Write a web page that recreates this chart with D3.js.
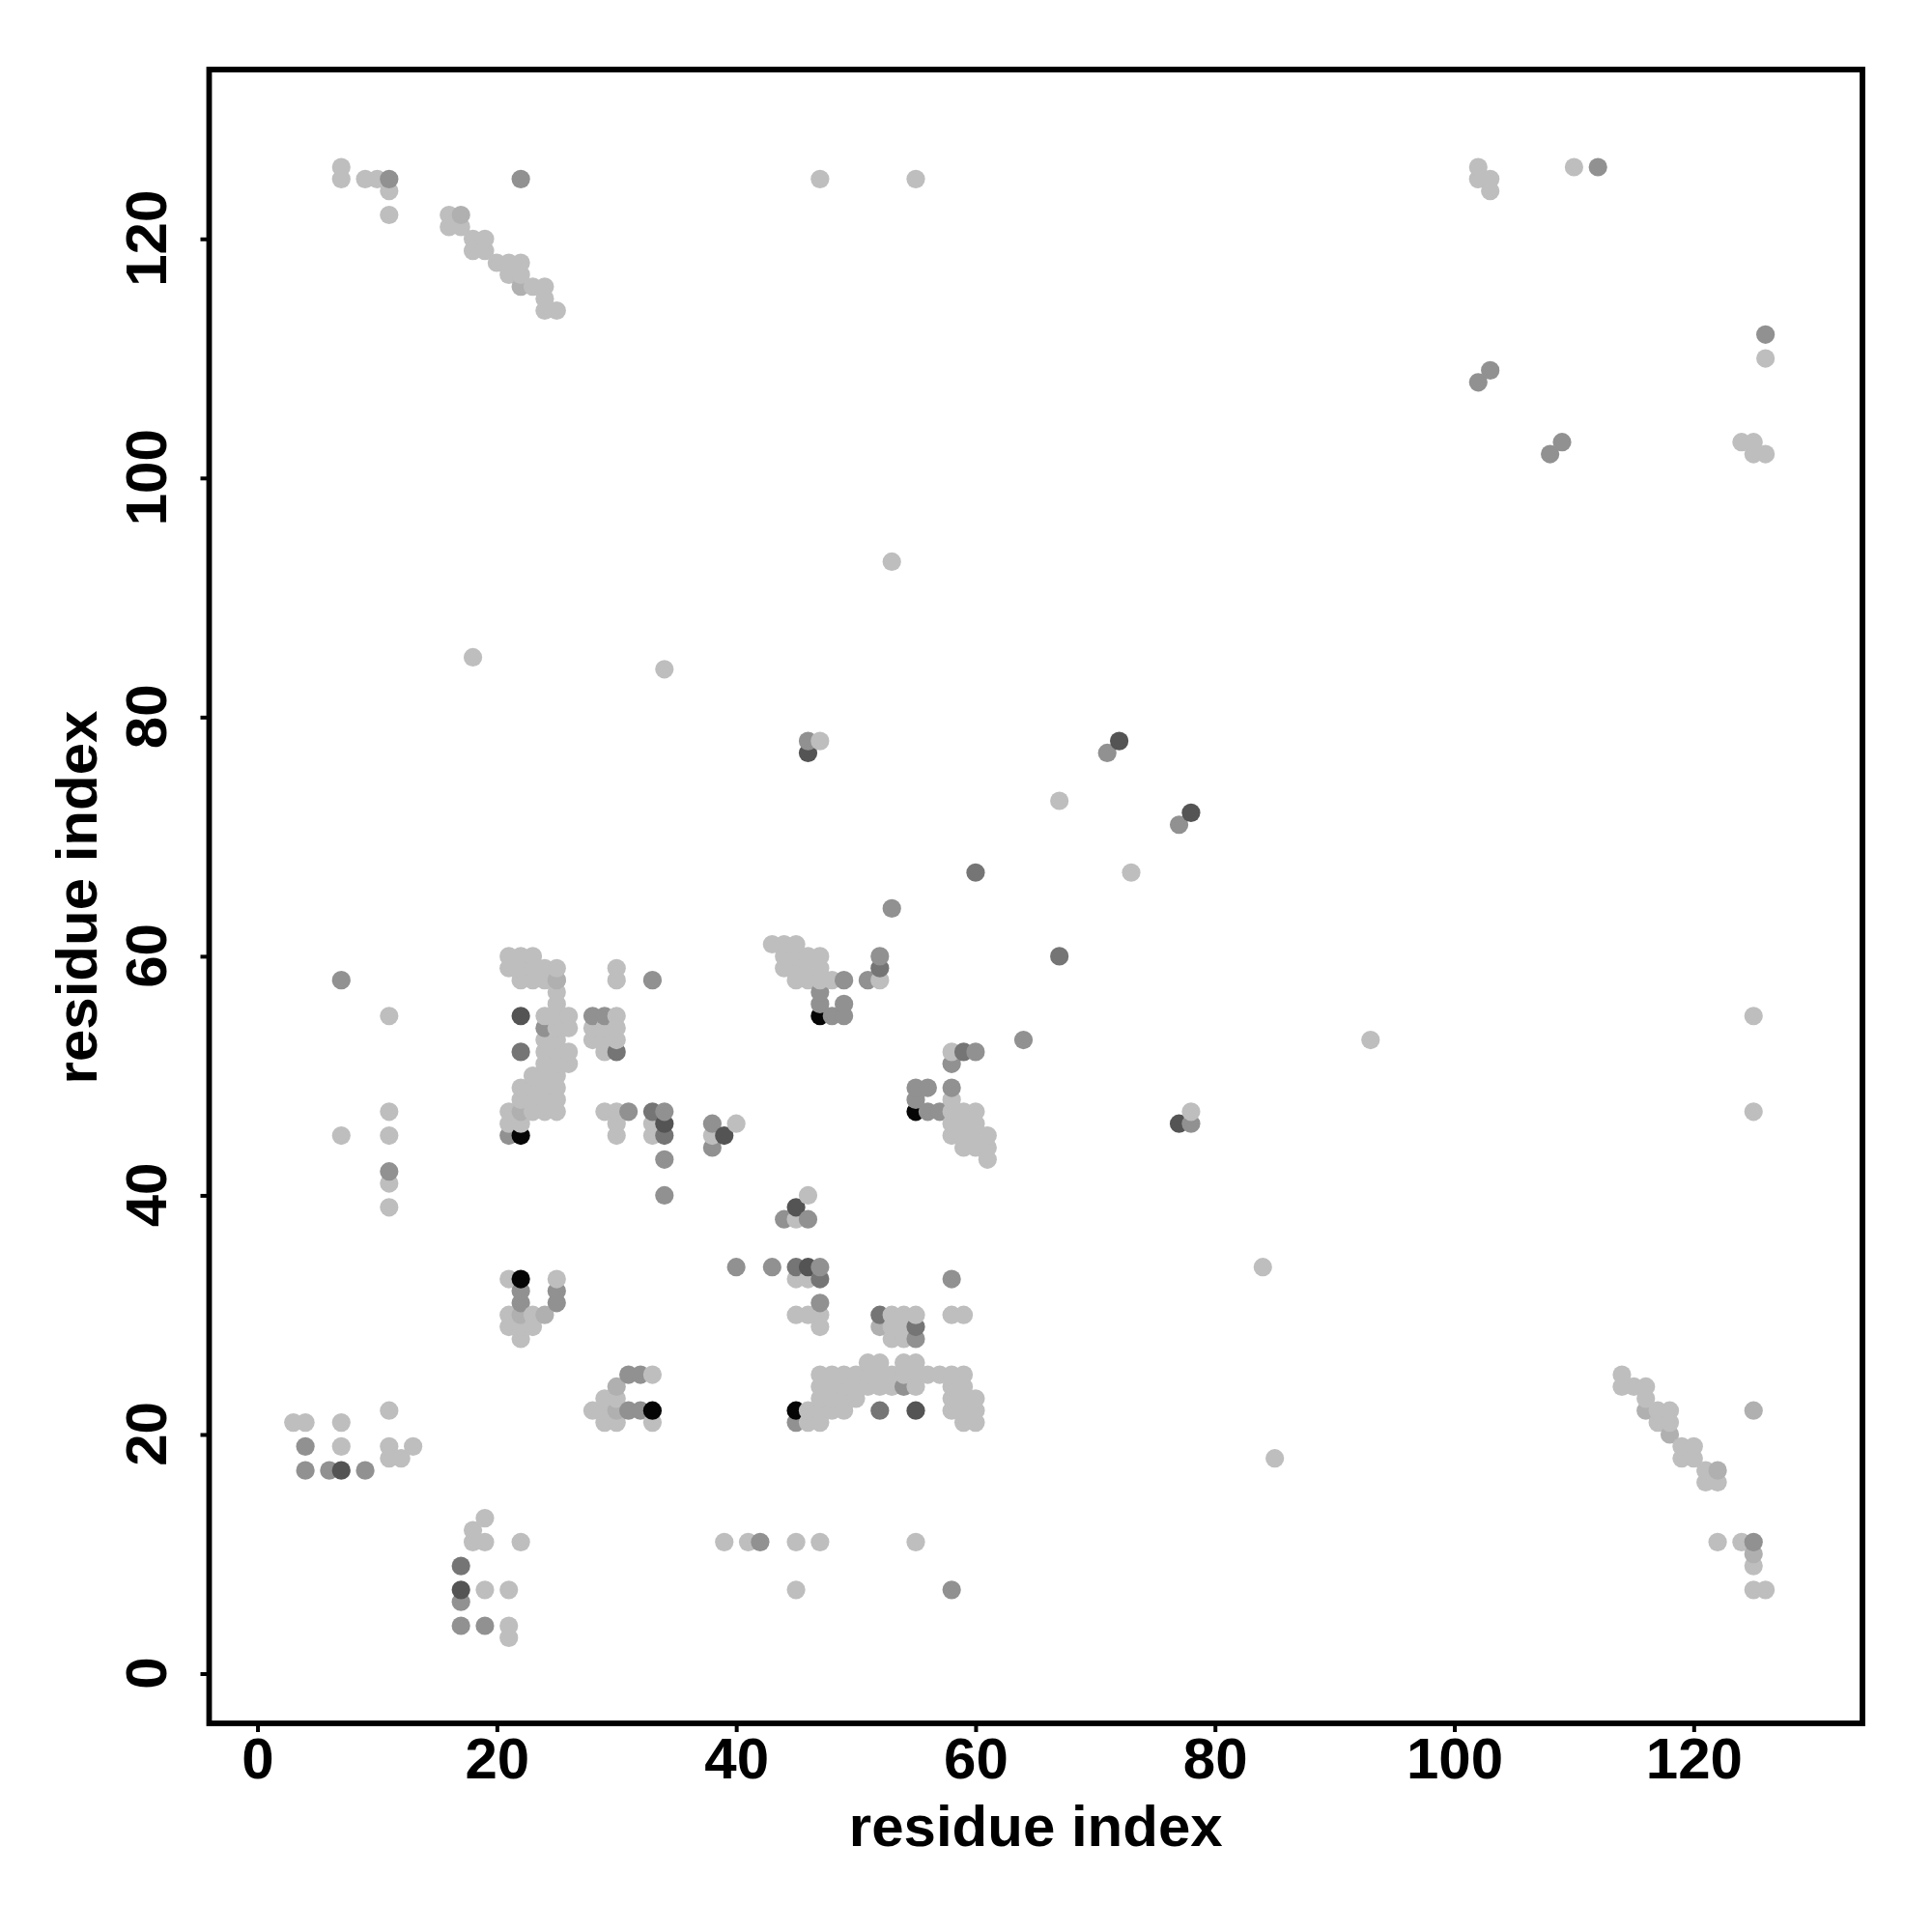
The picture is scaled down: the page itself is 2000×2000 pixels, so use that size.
<!DOCTYPE html>
<html>
<head>
<meta charset="utf-8">
<script src="https://cdn.jsdelivr.net/npm/d3@7/dist/d3.min.js"></script>
<style>
html,body{margin:0;padding:0;background:#fff;}
svg{display:block;}
text{font-family:"Liberation Sans",Arial,sans-serif;font-weight:bold;fill:#000;}
</style>
</head>
<body>
<svg id="chart" width="2000" height="2000"></svg>
<script>
// Contacts as [residue x, residue y], grouped by grey level
const lightContacts = [
[21,3],[21,4],[19,7],[21,7],[45,7],[125,7],[126,7],[125,9],[19,11],[18,11],[22,11],[39,11],[41,11],[45,11],[47,11],[55,11],[122,11],[124,11],[18,12],[19,13],
[121,16],[122,16],[121,17],[11,18],[12,18],[85,18],[119,18],[120,18],[7,19],[11,19],[13,19],[119,19],[120,19],
[3,21],[4,21],[7,21],[29,21],[30,21],[33,21],[46,21],[47,21],[59,21],[60,21],[117,21],[118,21],
[11,22],[28,22],[29,22],[46,22],[47,22],[48,22],[49,22],[58,22],[59,22],[60,22],[117,22],[118,22],
[29,23],[30,23],[47,23],[48,23],[49,23],[50,23],[58,23],[59,23],[60,23],[116,23],
[47,24],[48,24],[49,24],[50,24],[51,24],[52,24],[53,24],[55,24],[58,24],[59,24],[114,24],[115,24],[116,24],
[33,25],[47,25],[48,25],[49,25],[50,25],[51,25],[52,25],[53,25],[54,25],[55,25],[56,25],[57,25],[58,25],[59,25],[114,25],
[51,26],[52,26],[54,26],[55,26],[22,28],[21,29],[22,29],[23,29],[47,29],[53,28],[54,28],[53,29],[54,29],
[21,30],[23,30],[45,30],[46,30],[47,30],[53,30],[54,30],[55,30],[58,30],[59,30],
[21,33],[25,33],[45,33],[46,33],[84,34],[45,38],[46,40],[11,39],[11,41],
[59,44],[60,44],[61,44],[61,43],[7,45],[11,45],[30,45],[33,45],[38,45],[58,45],[59,45],[60,45],[61,45],
[21,46],[22,46],[30,46],[33,46],[40,46],[58,46],[59,46],[60,46],
[11,47],[21,47],[23,47],[24,47],[25,47],[29,47],[30,47],[58,47],[59,47],[60,47],[78,47],[125,47],
[22,48],[23,48],[24,48],[25,48],[58,48],[22,49],[23,49],[24,49],[25,49],[23,50],[24,50],[25,50],[24,51],[25,51],[26,51],
[24,52],[25,52],[26,52],[29,52],[58,52],[24,53],[25,53],[28,53],[29,53],[30,53],[93,53],
[25,54],[26,54],[28,54],[29,54],[30,54],[11,55],[24,55],[25,55],[26,55],[30,55],[125,55],[25,56],[25,57],
[22,58],[23,58],[24,58],[25,58],[30,58],[45,58],[46,58],[47,58],[48,58],[52,58],
[21,59],[22,59],[23,59],[24,59],[25,59],[30,59],[44,59],[45,59],[46,59],[47,59],
[21,60],[22,60],[23,60],[44,60],[45,60],[46,60],[47,60],[43,61],[44,61],[45,61],
[73,67],[67,73],[47,78],[18,85],[34,84],[53,93],[124,103],[125,103],[125,102],[126,102],[126,110],
[25,114],[24,114],[24,115],[23,116],[24,116],[21,117],[22,117],[20,118],[21,118],[22,118],[18,119],[19,119],[18,120],[19,120],[16,121],[17,121],[16,122],[11,122],
[11,124],[103,124],[7,125],[9,125],[10,125],[47,125],[55,125],[102,125],[103,125],[7,126],[102,126],[110,126]
];
const paleContacts = [
[125,10],[122,17],[118,20],[116,22],[125,22],[30,22],[30,24],[22,30],[24,30],[52,29],[22,47],[25,58],[22,116],[17,122]
];
const midContacts = [
[17,4],[19,4],[17,6],[58,7],[42,11],[125,11],[4,17],[6,17],[9,17],[4,19],[45,21],[31,22],[32,22],
[54,24],[31,25],[32,25],[55,28],[22,31],[25,31],[47,31],[22,32],[25,32],[40,34],[43,34],[47,34],[58,33],
[44,38],[46,38],[34,40],[11,42],[34,43],[38,44],[21,45],[78,46],[31,47],[34,47],[38,46],[55,48],[55,49],[56,49],[58,49],[56,47],[57,47],
[58,51],[60,52],[64,53],[24,54],[28,55],[29,55],[48,55],[49,55],[47,56],[49,56],[47,57],[7,58],[33,58],[49,58],[51,58],[52,60],
[53,64],[77,71],[71,77],[46,78],[102,108],[103,109],[108,102],[109,103],[126,112],[11,125],[22,125],[112,126]
];
const darkMidContacts = [
[17,9],[52,22],[52,30],[55,29],[45,34],[47,33],[34,45],[33,47],[22,52],[30,52],[52,59],[59,52],[60,67],[67,60]
];
const darkContacts = [
[17,7],[7,17],[55,22],[45,39],[46,34],[34,46],[39,45],[77,46],[22,55],[46,77],[72,78],[78,72]
];
const blackContacts = [
[33,22],[45,22],[22,33],[22,45],[55,47],[47,55]
];
const greyLevels = ["#bebebe","#b0b0b0","#919191","#757575","#545454","#050505"];
const xTicks = [0,20,40,60,80,100,120];
const yTicks = [0,20,40,60,80,100,120];
const axisTitle = "residue index";

const groups = [lightContacts,paleContacts,midContacts,darkMidContacts,darkContacts,blackContacts];
const points = groups.flatMap((g,i)=>g.map(p=>({x:p[0],y:p[1],level:i})))
  .sort((a,b)=>d3.ascending(a.x,b.x)||d3.ascending(a.y,b.y));

const frame = {left:216.5,right:1928,top:72,bottom:1784};
const x = d3.scaleLinear().domain([-4.04,134.1]).range([frame.left,frame.right]);
const y = d3.scaleLinear().domain([-4.16,134.16]).range([frame.bottom,frame.top]);
const shade = d3.scaleOrdinal().domain(d3.range(greyLevels.length)).range(greyLevels);

const svg = d3.select("#chart");
svg.append("g").selectAll("circle").data(points).join("circle")
  .attr("cx",d=>x(d.x)).attr("cy",d=>y(d.y)).attr("r",9.6).attr("fill",d=>shade(d.level));

svg.append("rect").attr("x",frame.left).attr("y",frame.top)
  .attr("width",frame.right-frame.left).attr("height",frame.bottom-frame.top)
  .attr("fill","none").attr("stroke","#000").attr("stroke-width",5.8);

const gx = svg.append("g").attr("transform",`translate(0,${frame.bottom})`)
  .call(d3.axisBottom(x).tickValues(xTicks).tickSize(9).tickSizeOuter(0).tickFormat(d=>""));
gx.select(".domain").remove();
gx.selectAll("line").attr("stroke","#000").attr("stroke-width",4);
gx.selectAll(".tick").append("text").text(d=>d)
  .attr("text-anchor","middle").attr("y",57).attr("dy",0).attr("font-size",60);

const gy = svg.append("g").attr("transform",`translate(${frame.left},0)`)
  .call(d3.axisLeft(y).tickValues(yTicks).tickSize(9).tickFormat(d=>""));
gy.select(".domain").remove();
gy.selectAll("line").attr("stroke","#000").attr("stroke-width",4);
gy.selectAll(".tick").append("text").text(d=>d)
  .attr("transform","translate(-45,-1) rotate(-90)")
  .attr("text-anchor","middle").attr("x",0).attr("y",0).attr("dy",0)
  .attr("font-size",60);

svg.append("text").attr("x",(frame.left+frame.right)/2).attr("y",1911)
  .attr("text-anchor","middle").attr("font-size",60).text(axisTitle);
svg.append("text").attr("transform",`translate(99.5,${(frame.top+frame.bottom)/2+1}) rotate(-90)`)
  .attr("text-anchor","middle").attr("font-size",60).text(axisTitle);
</script>
</body>
</html>
